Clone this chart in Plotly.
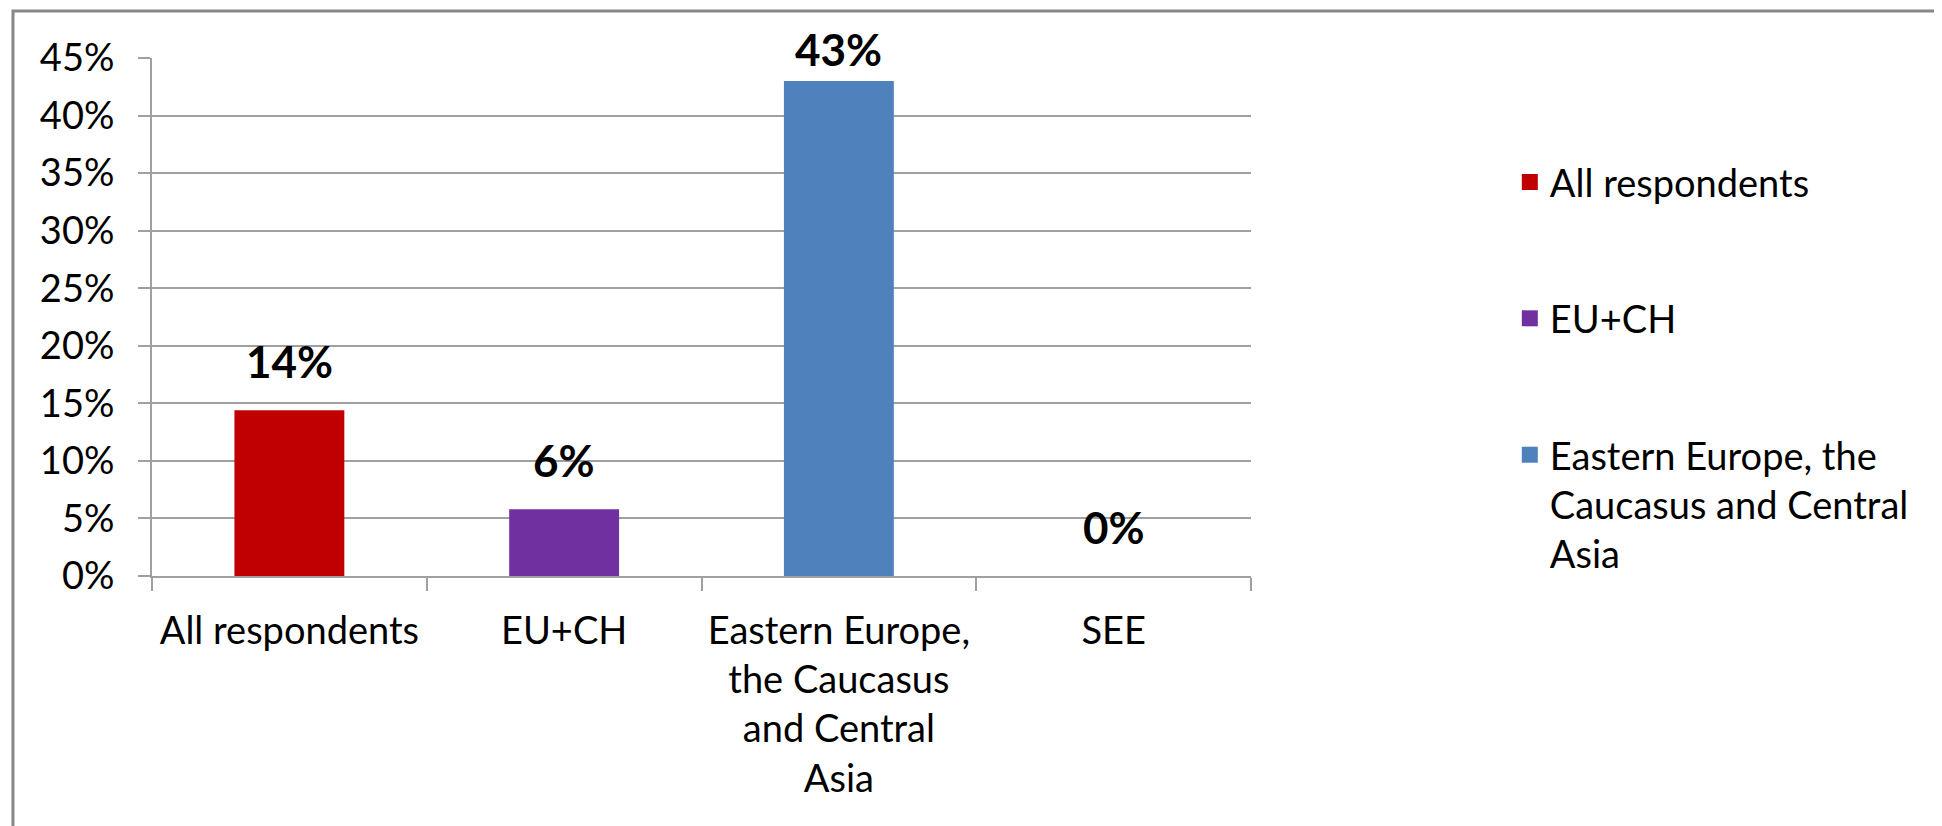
import plotly.graph_objects as go

### chart data ###
categories = ["All respondents", "EU+CH",
              "Eastern Europe,<br>the Caucasus<br>and Central<br>Asia", "SEE"]
values = [0.144, 0.058, 0.43, 0.0]
bar_colors = ["#C00000", "#7030A0", "#4F81BD", "#9BBB59"]

legend_names = ["All respondents", "EU+CH",
                "Eastern Europe, the<br>Caucasus and Central<br>Asia"]
legend_colors = ["#C00000", "#7030A0", "#4F81BD"]

y_ticks = [0, 0.05, 0.10, 0.15, 0.20, 0.25, 0.30, 0.35, 0.40, 0.45]

FONT = "Lato, Carlito, Calibri, sans-serif"
GRID = "#A0A0A0"
Y_MAX = 0.45

fig = go.Figure()

# bars, one trace, colour per category
fig.add_trace(go.Bar(x = categories, y = values, marker_color = bar_colors,
                     marker_line_width = 0, showlegend = False, hoverinfo = "skip"))

# legend entries (square swatches)
for name, col in zip(legend_names, legend_colors):
    fig.add_trace(go.Scatter(x = [None], y = [None], mode = "markers", name = name,
                             marker = dict(symbol = "square", size = 16, color = col),
                             legendgroup = name))

# value labels above bars (kept inside the chart near the top, like Excel does)
for cat, val in zip(categories, values):
    shift = 21 if val < Y_MAX - 0.05 else 4
    fig.add_annotation(x = cat, y = val, text = "<b>{:.0%}</b>".format(val),
                       showarrow = False, yanchor = "bottom", yshift = shift,
                       font = dict(family = FONT, size = 44, color = "#000000"))

# outer chart frame
fig.add_shape(type = "rect", xref = "paper", yref = "paper",
              x0 = -0.1265, x1 = 1.7, y0 = -0.6, y1 = 1.0907,
              line = dict(color = "#888888", width = 3), fillcolor = "rgba(0,0,0,0)")

fig.update_layout(
    width = 1934, height = 818,
    margin = dict(l = 144, r = 691, t = 50, b = 250),
    paper_bgcolor = "white", plot_bgcolor = "white",
    font = dict(family = FONT, size = 38, color = "#000000"),
    bargap = 0.6,
    legend = dict(x = 1.2355, xanchor = "left", y = 0.821, yanchor = "top",
                  traceorder = "grouped", tracegroupgap = 84, valign = "top",
                  font = dict(family = FONT, size = 38, color = "#000000"),
                  itemwidth = 30, bgcolor = "rgba(0,0,0,0)"),
)

fig.update_xaxes(showline = True, linecolor = GRID, linewidth = 2,
                 ticks = "outside", tickson = "boundaries", ticklen = 13,
                 tickcolor = GRID, tickwidth = 2, ticklabelstandoff = 20,
                 showgrid = False)

fig.update_yaxes(range = [0, Y_MAX], tickvals = y_ticks, tickformat = ".0%",
                 showline = True, linecolor = GRID, linewidth = 2,
                 ticks = "outside", ticklen = 12, tickcolor = GRID, tickwidth = 2,
                 ticklabelstandoff = 16,
                 showgrid = True, gridcolor = GRID, gridwidth = 2,
                 zeroline = False)

fig.write_html("out.html")
